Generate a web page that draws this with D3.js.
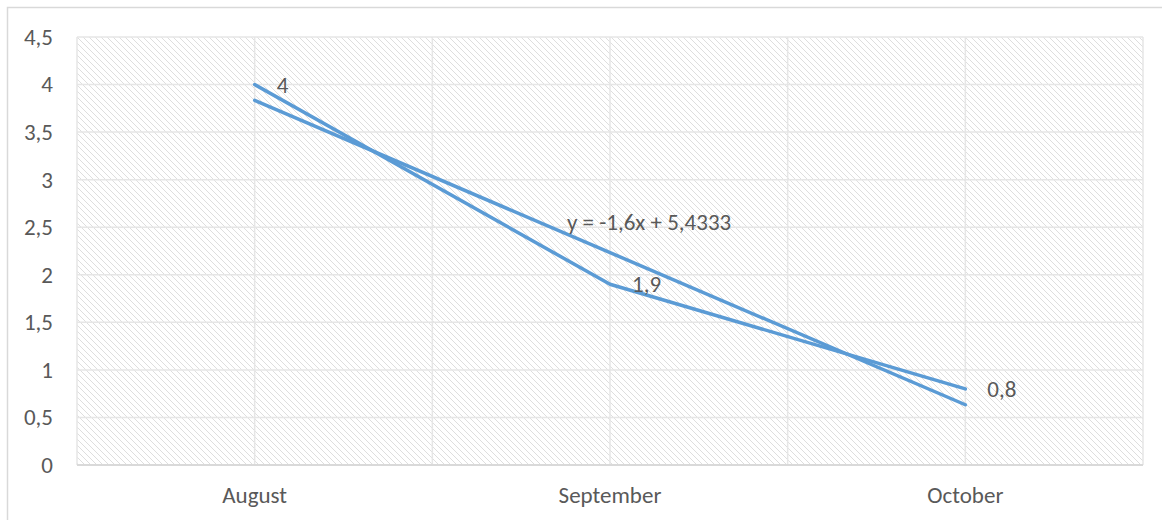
<!DOCTYPE html>
<html>
<head>
<meta charset="utf-8">
<script src="https://cdnjs.cloudflare.com/ajax/libs/d3/7.8.5/d3.min.js"></script>
<style>
  body { margin: 0; background: #fff; }
  text { font-family: Carlito, "Open Sans", "Liberation Sans", sans-serif; fill: #595959; }
</style>
</head>
<body>
<div id="chart"></div>
<script>
// chart values
const months = ["August", "September", "October"];
const values = [4, 1.9, 0.8];
const yTicks = [0, 0.5, 1, 1.5, 2, 2.5, 3, 3.5, 4, 4.5];
const trendSlope = -1.6;
const trendIntercept = 5.4333;
const trendLabel = "y = -1,6x + 5,4333";

const W = 1162, H = 520;
const margin = {top: 37, right: 19, bottom: 55, left: 77};
const width = W - margin.left - margin.right;
const height = H - margin.top - margin.bottom;
const fontSize = "23px";

const fmt = v => String(v).replace(".", ",");

const svg = d3.select("#chart").append("svg")
  .attr("width", W)
  .attr("height", H);

// hatch pattern for the plot area
const defs = svg.append("defs");
const pat = defs.append("pattern")
  .attr("id", "hatch")
  .attr("patternUnits", "userSpaceOnUse")
  .attr("width", 6)
  .attr("height", 6);
pat.append("path")
  .attr("d", "M-1,-1 L7,7 M-1,5 L1,7 M5,-1 L7,1")
  .attr("stroke", "#dedede")
  .attr("stroke-width", 1);

// outer chart border (runs off the right and bottom)
svg.append("rect")
  .attr("x", 7.5).attr("y", 7.5)
  .attr("width", W + 20).attr("height", H + 20)
  .attr("fill", "none")
  .attr("stroke", "#d9d9d9")
  .attr("stroke-width", 1.5);

const g = svg.append("g")
  .attr("transform", "translate(" + margin.left + "," + margin.top + ")");

let x = d3.scaleBand()
  .domain(months)
  .range([0, width]);

let y = d3.scaleLinear()
  .domain([0, 4.5])
  .range([height, 0]);

const cx = d => x(d) + x.bandwidth() / 2;

g.append("rect")
  .attr("width", width)
  .attr("height", height)
  .attr("fill", "url(#hatch)");

// horizontal gridlines
g.selectAll(".hgrid").data(yTicks)
  .enter().append("line")
    .attr("x1", 0).attr("x2", width)
    .attr("y1", d => y(d)).attr("y2", d => y(d))
    .attr("stroke", "#e6e6e6")
    .attr("stroke-width", 1.5);

// vertical gridlines at band edges and centres
const vlines = [];
months.forEach(m => { vlines.push(x(m)); vlines.push(cx(m)); });
vlines.push(width);
g.selectAll(".vgrid").data(vlines)
  .enter().append("line")
    .attr("x1", d => d).attr("x2", d => d)
    .attr("y1", 0).attr("y2", height)
    .attr("stroke", "#e6e6e6")
    .attr("stroke-width", 1.5);

// axis line
g.append("line")
  .attr("x1", 0).attr("x2", width)
  .attr("y1", height).attr("y2", height)
  .attr("stroke", "#d9d9d9")
  .attr("stroke-width", 2);

// y axis labels
g.append("g")
  .call(d3.axisLeft(y).tickValues(yTicks).tickFormat(fmt).tickSize(0).tickPadding(24))
  .call(a => a.select(".domain").remove())
  .selectAll("text")
    .style("font-size", fontSize)
    .attr("fill", "#595959");

// x axis labels
g.append("g")
  .attr("transform", "translate(0," + height + ")")
  .call(d3.axisBottom(x).tickSize(0).tickPadding(22))
  .call(a => a.select(".domain").remove())
  .selectAll("text")
    .style("font-size", fontSize)
    .attr("fill", "#595959");

// trend line
const tx = [1, months.length];
g.append("line")
  .attr("x1", cx(months[0])).attr("y1", y(trendSlope * tx[0] + trendIntercept))
  .attr("x2", cx(months[months.length - 1])).attr("y2", y(trendSlope * tx[1] + trendIntercept))
  .attr("stroke", "#5b9bd5")
  .attr("stroke-width", 3.5)
  .attr("stroke-linecap", "round");

// data line
const line = d3.line()
  .x((d, i) => cx(months[i]))
  .y(d => y(d));

g.append("path")
  .datum(values)
  .attr("d", line)
  .attr("fill", "none")
  .attr("stroke", "#5b9bd5")
  .attr("stroke-width", 3.5)
  .attr("stroke-linejoin", "round")
  .attr("stroke-linecap", "round");

// data labels
g.selectAll(".lbl").data(values)
  .enter().append("text")
    .attr("x", (d, i) => cx(months[i]) + 22)
    .attr("y", d => y(d))
    .attr("dy", "0.35em")
    .style("font-size", fontSize)
    .text(fmt);

// trend equation
g.append("text")
  .attr("x", cx(months[1]) - 43)
  .attr("y", y(2.56))
  .attr("dy", "0.35em")
  .style("font-size", fontSize)
  .text(trendLabel);
</script>
</body>
</html>
